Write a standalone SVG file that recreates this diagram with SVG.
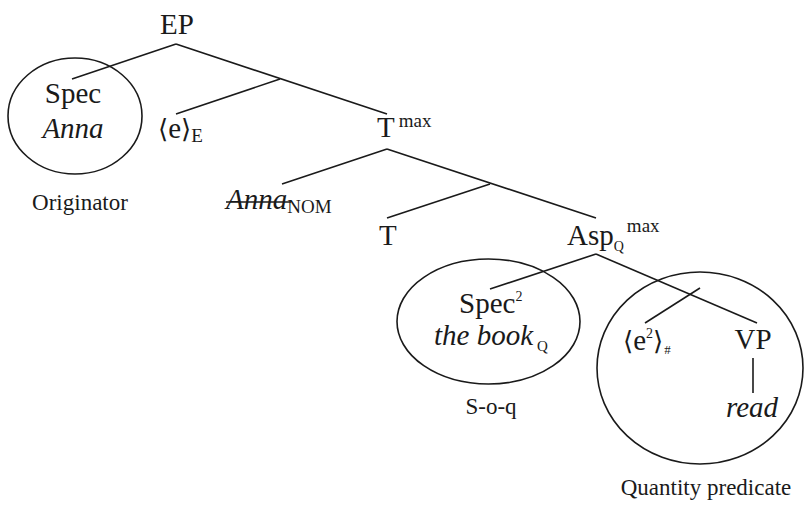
<svg xmlns="http://www.w3.org/2000/svg" width="804" height="506" viewBox="0 0 804 506" font-family="'Liberation Serif', Tinos, 'Times New Roman', 'Noto Serif', 'DejaVu Serif', serif">
<style>
text{font-family:'Liberation Serif', Tinos, 'Times New Roman', 'Noto Serif', 'DejaVu Serif', serif;fill:#1a1a1a}
.m{font-size:29px}
.i{font-style:italic}
.s{font-size:19px}
.c{font-size:23px}
.b{font-family:'DejaVu Serif', 'Liberation Serif', serif;font-size:26px}
line,ellipse{stroke:#1a1a1a;stroke-width:1.6;fill:none}
</style>
<rect width="804" height="506" fill="#fff"/>
<g id="connectors">
<line x1="176" y1="44" x2="72" y2="79"/>
<line x1="176" y1="44" x2="387" y2="114"/>
<line x1="280" y1="79" x2="176" y2="114"/>
<line x1="387" y1="149" x2="282" y2="184"/>
<line x1="387" y1="149" x2="596" y2="218"/>
<line x1="490" y1="184" x2="387" y2="218"/>
<line x1="596" y1="254" x2="490" y2="289"/>
<line x1="596" y1="254" x2="757" y2="323"/>
<line x1="700" y1="288" x2="645" y2="323"/>
<line x1="753" y1="358" x2="753" y2="393"/>
</g>
<g id="EP"><text class="m" x="177" y="34" text-anchor="middle">EP</text></g>
<g id="spec-anna">
<ellipse cx="75" cy="116" rx="67" ry="58"/>
<text class="m" x="73" y="103" text-anchor="middle">Spec</text>
<text class="m i" x="73" y="138" text-anchor="middle">Anna</text>
</g>
<g id="originator"><text class="c" x="80" y="210" text-anchor="middle">Originator</text></g>
<g id="eE"><text x="158" y="138"><tspan class="b">⟨</tspan><tspan class="m">e</tspan><tspan class="b">⟩</tspan><tspan class="s" dy="4">E</tspan></text></g>
<g id="Tmax"><text x="377" y="137"><tspan class="m">T</tspan><tspan class="s" dx="4" dy="-10">max</tspan></text></g>
<g id="AnnaNOM">
<text x="226" y="209"><tspan class="m i">Anna</tspan><tspan class="s" dy="4">NOM</tspan></text>
<line x1="226" y1="202" x2="291" y2="202"/>
</g>
<g id="T"><text class="m" x="379" y="245">T</text></g>
<g id="AspQmax"><text x="567" y="245"><tspan class="m">Asp</tspan><tspan font-size="14" dy="6">Q</tspan><tspan class="s" dx="3" dy="-19">max</tspan></text></g>
<g id="spec2">
<ellipse cx="488.5" cy="321.5" rx="91.5" ry="62.5"/>
<text x="459" y="313"><tspan class="m">Spec</tspan><tspan font-size="14" dy="-12">2</tspan></text>
<text x="434" y="345"><tspan class="m i">the book</tspan><tspan font-size="15" dx="4" dy="6">Q</tspan></text>
</g>
<g id="soq"><text class="c" x="491" y="414" text-anchor="middle">S-o-q</text></g>
<g id="quantity-predicate">
<ellipse cx="700" cy="368" rx="103" ry="96"/>
<text x="623" y="350"><tspan class="b">⟨</tspan><tspan class="m">e</tspan><tspan font-size="14" dy="-12">2</tspan><tspan class="b" dy="12">⟩</tspan><tspan font-size="13" dx="1" dy="4">#</tspan></text>
<text class="m" x="753" y="349" text-anchor="middle">VP</text>
<text class="m i" x="752" y="417" text-anchor="middle">read</text>
</g>
<g id="qp-label"><text class="c" x="706" y="495" text-anchor="middle">Quantity predicate</text></g>
</svg>
